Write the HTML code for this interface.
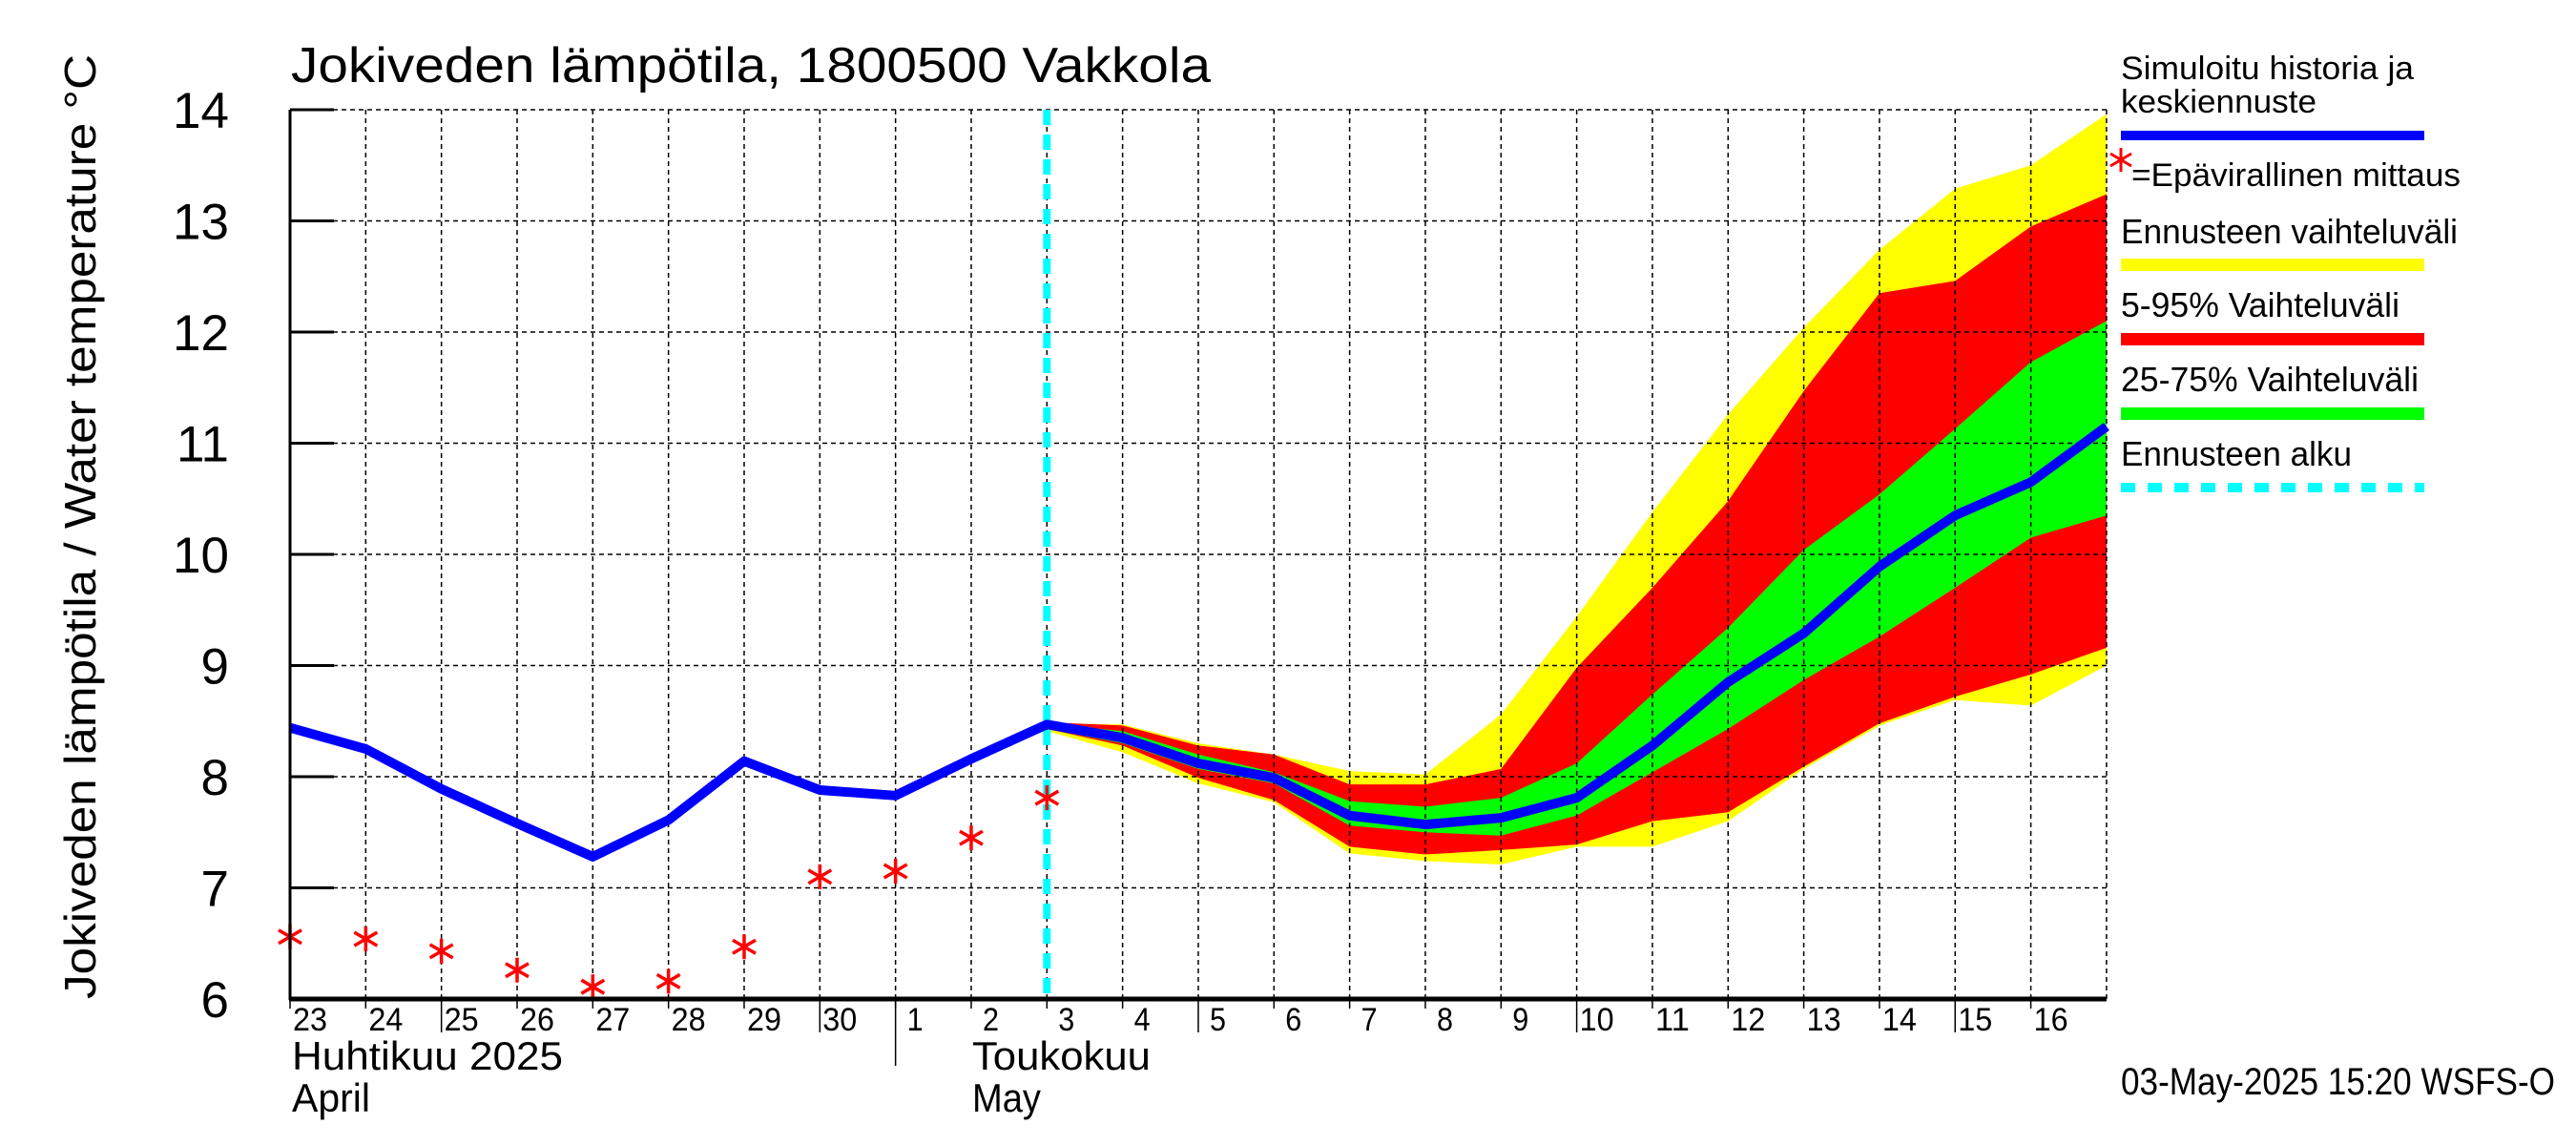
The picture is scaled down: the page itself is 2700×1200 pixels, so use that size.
<!DOCTYPE html>
<html><head><meta charset="utf-8"><style>
html,body{margin:0;padding:0;background:#fff;}
svg{display:block;font-family:"Liberation Sans",sans-serif;}
</style></head><body>
<svg id="chart" width="2700" height="1200" viewBox="0 0 2700 1200" xmlns="http://www.w3.org/2000/svg">
<g id="bands"></g>
<g id="grid"></g>
<g id="series"></g>
<g id="axes"></g>
<text x="305" y="86" font-size="52" textLength="964" lengthAdjust="spacingAndGlyphs">Jokiveden lämpötila, 1800500 Vakkola</text>
<text transform="translate(100,1047) rotate(-90)" font-size="46" textLength="990" lengthAdjust="spacingAndGlyphs">Jokiveden lämpötila / Water temperature   °C</text>
<g>
<text x="2223" y="83" font-size="34" textLength="307" lengthAdjust="spacingAndGlyphs">Simuloitu historia ja</text>
<text x="2223" y="118" font-size="34" textLength="205" lengthAdjust="spacingAndGlyphs">keskiennuste</text>
<rect x="2223" y="137" width="318" height="10" fill="#0000ff"/>
<g stroke="#ff0000" stroke-width="3">
<line x1="2223" y1="155" x2="2223" y2="180"/><line x1="2212" y1="161" x2="2234" y2="174"/><line x1="2212" y1="174" x2="2234" y2="161"/></g>
<text x="2234" y="195" font-size="34" textLength="345" lengthAdjust="spacingAndGlyphs">=Epävirallinen mittaus</text>
<text x="2223" y="255" font-size="36" textLength="353" lengthAdjust="spacingAndGlyphs">Ennusteen vaihteluväli</text>
<rect x="2223" y="271" width="318" height="13" fill="#ffff00"/>
<text x="2223" y="332" font-size="36" textLength="292" lengthAdjust="spacingAndGlyphs">5-95% Vaihteluväli</text>
<rect x="2223" y="349" width="318" height="13" fill="#ff0000"/>
<text x="2223" y="410" font-size="36" textLength="312" lengthAdjust="spacingAndGlyphs">25-75% Vaihteluväli</text>
<rect x="2223" y="427" width="318" height="13" fill="#00ff00"/>
<text x="2223" y="488" font-size="36" textLength="242" lengthAdjust="spacingAndGlyphs">Ennusteen alku</text>
<line x1="2223" y1="511" x2="2541" y2="511" stroke="#00ffff" stroke-width="10" stroke-dasharray="15,13"/>
</g>
<text x="2223" y="1147" font-size="40" textLength="455" lengthAdjust="spacingAndGlyphs">03-May-2025 15:20 WSFS-O</text>
</svg>
<script>
const histValues = [8.44, 8.25, 7.89, 7.58, 7.28, 7.61, 8.14, 7.88, 7.83, 8.16, 8.47];
const measValues = [6.56, 6.54, 6.43, 6.26, 6.11, 6.16, 6.47, 7.10, 7.15, 7.45, 7.81];
const medianValues = [8.46, 8.35, 8.12, 7.99, 7.65, 7.57, 7.63, 7.81, 8.28, 8.85, 9.29, 9.89, 10.35, 10.65, 11.15];
const yellowHigh = [8.48, 8.47, 8.30, 8.20, 8.05, 8.02, 8.56, 9.44, 10.38, 11.26, 12.04, 12.74, 13.29, 13.50, 13.96];
const yellowLow = [8.41, 8.22, 7.94, 7.77, 7.31, 7.24, 7.21, 7.37, 7.37, 7.60, 8.07, 8.46, 8.69, 8.64, 9.00];
const redHigh = [8.49, 8.46, 8.28, 8.20, 7.93, 7.93, 8.07, 8.98, 9.70, 10.48, 11.47, 12.35, 12.46, 12.95, 13.24];
const redLow = [8.43, 8.28, 7.99, 7.79, 7.37, 7.30, 7.34, 7.39, 7.60, 7.68, 8.09, 8.48, 8.72, 8.92, 9.16];
const greenHigh = [8.48, 8.41, 8.20, 8.04, 7.78, 7.73, 7.81, 8.12, 8.74, 9.34, 10.04, 10.54, 11.13, 11.73, 12.10];
const greenLow = [8.43, 8.30, 8.07, 7.94, 7.56, 7.50, 7.47, 7.65, 8.04, 8.43, 8.87, 9.26, 9.70, 10.15, 10.35];
const dayLabels = ["23","24","25","26","27","28","29","30","1","2","3","4","5","6","7","8","9","10","11","12","13","14","15","16"];
const yTicks = [6,7,8,9,10,11,12,13,14];
const forecastStartDay = 10;

const NS = "http://www.w3.org/2000/svg";
const X0 = 304, DX = 79.33, Y0 = 1047, DY = 116.5;
function xs(d){ return X0 + d*DX; }
function ys(v){ return Y0 - (v-6)*DY; }
function mk(tag, attrs, parent){ const e=document.createElementNS(NS,tag); for(const k in attrs) e.setAttribute(k,attrs[k]); parent.appendChild(e); return e; }
const bands=document.getElementById('bands'), grid=document.getElementById('grid'), series=document.getElementById('series'), axes=document.getElementById('axes');

function band(hi, lo, color, name){
  let pts=[];
  hi.forEach((v,i)=>pts.push(xs(forecastStartDay+i)+','+ys(v)));
  for(let i=lo.length-1;i>=0;i--) pts.push(xs(forecastStartDay+i)+','+ys(lo[i]));
  const p=mk('polygon',{points:pts.join(' '),fill:color},bands);
  
  
}
band(yellowHigh, yellowLow, '#ffff00', 'band-forecast-range');
band(redHigh, redLow, '#ff0000', 'band-5-95');
band(greenHigh, greenLow, '#00ff00', 'band-25-75');

// grid
for(let d=1; d<=24; d++){
  const l=mk('line',{x1:xs(d),y1:ys(14),x2:xs(d),y2:Y0,stroke:'#000','stroke-width':1.5,'stroke-dasharray':'5,4'},grid);
  
  
}
yTicks.forEach(v=>{
  if(v===6) return;
  const l=mk('line',{x1:X0,y1:ys(v),x2:xs(24),y2:ys(v),stroke:'#000','stroke-width':1.5,'stroke-dasharray':'5,4'},grid);
  
  
});

// forecast start line
const fl=mk('line',{x1:xs(forecastStartDay),y1:ys(14),x2:xs(forecastStartDay),y2:Y0,stroke:'#00ffff','stroke-width':8,'stroke-dasharray':'16,10'},series);



// history + median line
let lp=[];
histValues.forEach((v,i)=>lp.push(xs(i)+','+ys(v)));
medianValues.forEach((v,i)=>{ if(i>0) lp.push(xs(forecastStartDay+i)+','+ys(v)); });
const line=mk('polyline',{points:lp.join(' '),fill:'none',stroke:'#0000ff','stroke-width':10,'stroke-linejoin':'round'},series);



// measurements
measValues.forEach((v,i)=>{
  const x=xs(i), y=ys(v);
  const g=mk('g',{stroke:'#ff0000','stroke-width':3.5},series);
  
  
  mk('line',{x1:x,y1:y-13,x2:x,y2:y+13},g);
  mk('line',{x1:x-12,y1:y-7,x2:x+12,y2:y+7},g);
  mk('line',{x1:x-12,y1:y+7,x2:x+12,y2:y-7},g);
});

// axes
const la=mk('line',{x1:X0,y1:ys(14),x2:X0,y2:Y0+1,stroke:'#000','stroke-width':3},axes);


const ba=mk('line',{x1:X0-1,y1:Y0,x2:xs(24),y2:Y0,stroke:'#000','stroke-width':5},axes);


yTicks.forEach(v=>{
  const t=mk('line',{x1:X0,y1:ys(v),x2:X0+46,y2:ys(v),stroke:'#000','stroke-width':3},axes);
  
  
  const tx=mk('text',{x:240,y:ys(v)+19,'font-size':53,'text-anchor':'end'},axes);
  tx.textContent=String(v);
  
  
});
dayLabels.forEach((lab,i)=>{
  const t=mk('line',{x1:xs(i),y1:Y0,x2:xs(i),y2:Y0+(i%5===2?35:10),stroke:'#000','stroke-width':1.5},axes);
  
  
  const tx=mk('text',{x:xs(i)+(lab.length===1?12:3),y:1080,'font-size':34,textLength:lab.length===1?17:36,lengthAdjust:'spacingAndGlyphs'},axes);
  tx.textContent=lab;
  
  
});
const sep=mk('line',{x1:xs(8),y1:Y0,x2:xs(8),y2:1117,stroke:'#000','stroke-width':1.5},axes);


[["Huhtikuu  2025",xs(0)+2,1121,284,'month-label-april-fi'],["April",xs(0)+2,1165,82,'month-label-april-en'],["Toukokuu",xs(9)+1,1121,187,'month-label-may-fi'],["May",xs(9)+1,1165,72,'month-label-may-en']].forEach(m=>{
  const tx=mk('text',{x:m[1],y:m[2],'font-size':42,textLength:m[3],lengthAdjust:'spacingAndGlyphs'},axes);
  tx.textContent=m[0];
  
  
});
</script>
</body></html>
